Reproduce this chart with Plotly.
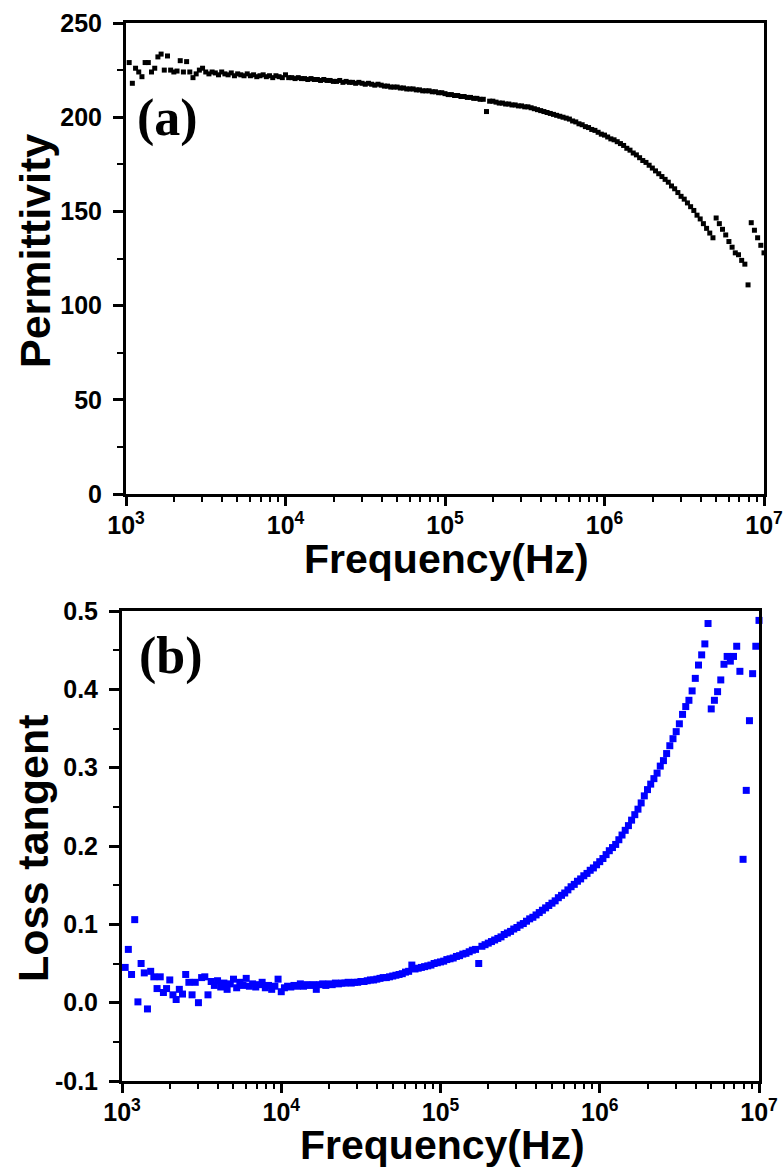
import plotly.graph_objects as go

# Frequency sweep: 50 points per decade, 1 kHz .. 10 MHz
FREQ_MANTISSA = [1.000, 1.047, 1.096, 1.148, 1.202, 1.259, 1.318, 1.380, 1.445, 1.514,
                 1.585, 1.660, 1.738, 1.820, 1.905, 1.995, 2.089, 2.188, 2.291, 2.399,
                 2.512, 2.630, 2.754, 2.884, 3.020, 3.162, 3.311, 3.467, 3.631, 3.802,
                 3.981, 4.169, 4.365, 4.571, 4.786, 5.012, 5.248, 5.495, 5.754, 6.026,
                 6.310, 6.607, 6.918, 7.244, 7.586, 7.943, 8.318, 8.710, 9.120, 9.550]
DECADES = [1e3, 1e4, 1e5, 1e6]
LAST_FREQ = 1e7
freq = [m * d for d in DECADES for m in FREQ_MANTISSA] + [LAST_FREQ]

permittivity = [
    231, 229, 218, 226, 224, 221.5, 229, 229, 224, 226,
    232, 233.5, 225, 232.5, 225, 224, 224.5, 230, 224, 229.5,
    224, 221, 223, 225, 226, 224, 223, 224, 223.5, 222.5,
    224, 223, 222.5, 223.5, 222, 223, 222.5, 222, 223, 222,
    222.5, 221.5, 222, 222.5, 221.5, 222, 221, 222, 221.5, 221,
    222.5, 221, 221, 220.5, 221, 220.5, 220.5, 220, 220.5, 220,
    220, 219.5, 220, 219.5, 219.5, 219, 219, 219.5, 218.5, 219,
    218.5, 218.5, 218, 218.5, 218, 217.5, 218, 217.5, 217, 217.5,
    217, 216.5, 216.5, 216, 216, 216, 215.5, 215.5, 215, 215,
    215, 214.5, 214.5, 214, 214, 214, 213.5, 213.5, 213, 213,
    212.5, 212, 212, 211.5, 211.5, 211, 211, 210.5, 210.5, 210,
    210, 209.5, 209.5, 203, 208.5, 208.5, 208, 207.5, 207.5, 207,
    207, 206.5, 206.5, 206, 206, 205.5, 205.5, 205, 204.5, 204,
    203.5, 203, 202.5, 202, 201.5, 201, 200.5, 200, 199.5, 199,
    198, 197.5, 196.5, 196, 195, 194.5, 193.5, 193, 192, 191,
    190.5, 189.5, 188.5, 188, 187, 186, 185, 183.5, 182.5, 181,
    180, 178.5, 177, 176, 174.5, 173, 171.5, 170, 168.5, 167,
    165.5, 163.5, 162, 160, 158, 156.5, 154.5, 152.5, 150.5, 148,
    146, 143.5, 141, 138.5, 136, 146.5, 143.5, 140.5, 137.5, 134,
    131, 128, 127, 124, 122, 111, 144, 140, 136, 132,
    128]

loss_tangent = [
    -0.054, 0.045, 0.068, 0.036, 0.106, 0.001, 0.050, 0.038, -0.008, 0.040,
    0.033, 0.018, 0.033, 0.013, 0.018, 0.029, 0.010, 0.004, 0.017, 0.011,
    0.036, 0.026, 0.010, 0.026, 0.000, 0.032, 0.033, 0.010, 0.027, 0.022,
    0.028, 0.020, 0.025, 0.017, 0.024, 0.030, 0.019, 0.026, 0.022, 0.031,
    0.021, 0.024, 0.020, 0.023, 0.026, 0.019, 0.022, 0.017, 0.021, 0.030,
    0.014, 0.019, 0.021, 0.020, 0.022, 0.021, 0.024, 0.021, 0.023, 0.022,
    0.023, 0.017, 0.023, 0.024, 0.022, 0.024, 0.023, 0.025, 0.024, 0.025,
    0.025, 0.026, 0.025, 0.026, 0.026, 0.027, 0.027, 0.028, 0.029, 0.029,
    0.030, 0.031, 0.032, 0.032, 0.033, 0.034, 0.035, 0.036, 0.037, 0.039,
    0.040, 0.048, 0.043, 0.044, 0.045, 0.046, 0.047, 0.048, 0.050, 0.051,
    0.052, 0.053, 0.055, 0.056, 0.057, 0.059, 0.060, 0.062, 0.063, 0.065,
    0.067, 0.068, 0.050, 0.072, 0.074, 0.076, 0.078, 0.080, 0.082, 0.084,
    0.087, 0.089, 0.091, 0.094, 0.096, 0.099, 0.101, 0.104, 0.107, 0.109,
    0.112, 0.115, 0.118, 0.121, 0.124, 0.127, 0.130, 0.134, 0.137, 0.140,
    0.144, 0.148, 0.151, 0.155, 0.158, 0.162, 0.165, 0.169, 0.172, 0.176,
    0.180, 0.184, 0.189, 0.194, 0.198, 0.202, 0.208, 0.214, 0.220, 0.226,
    0.233, 0.240, 0.247, 0.255, 0.264, 0.272, 0.279, 0.286, 0.293, 0.302,
    0.309, 0.318, 0.328, 0.337, 0.346, 0.356, 0.368, 0.378, 0.386, 0.398,
    0.414, 0.431, 0.444, 0.458, 0.484, 0.375, 0.386, 0.397, 0.412, 0.432,
    0.442, 0.436, 0.442, 0.455, 0.423, 0.183, 0.271, 0.360, 0.420, 0.455,
    0.488]

X_TICKS = [1e3, 1e4, 1e5, 1e6, 1e7]
X_LABELS = ["10<sup>3</sup>", "10<sup>4</sup>", "10<sup>5</sup>", "10<sup>6</sup>", "10<sup>7</sup>"]
MINOR_DIGITS = [2, 3, 4, 5, 6, 7, 8, 9]
X_MINOR = [dg * d for d in DECADES for dg in MINOR_DIGITS]
Y1_TICKS = [0, 50, 100, 150, 200, 250]
Y1_LABELS = ["0", "50", "100", "150", "200", "250"]
Y2_TICKS = [-0.1, 0.0, 0.1, 0.2, 0.3, 0.4, 0.5]
Y2_LABELS = ["-0.1", "0.0", "0.1", "0.2", "0.3", "0.4", "0.5"]
X_TITLE = "Frequency(Hz)"
Y1_TITLE = "Permittivity"
Y2_TITLE = "Loss tangent"
PANEL_LABELS = ["(a)", "(b)"]

W, H = 783, 1175
SANS = "Liberation Sans, Arial, sans-serif"
SERIF = "Liberation Serif, Times New Roman, serif"
tickfont = dict(family=SANS, size=25, color="black", weight="bold")
titlefont = dict(family=SANS, size=41, color="black", weight="bold")
ytitlefont = dict(family=SANS, size=43, color="black", weight="bold")
labelfont = dict(family=SERIF, size=52, color="black", weight="bold")

fig = go.Figure()
fig.add_trace(go.Scatter(x=freq, y=permittivity, mode="markers", xaxis="x", yaxis="y",
                         marker=dict(symbol="square", size=5, color="black"),
                         cliponaxis=False, showlegend=False))
fig.add_trace(go.Scatter(x=freq, y=loss_tangent, mode="markers", xaxis="x2", yaxis="y2",
                         marker=dict(symbol="square", size=7, color="#0000FF"),
                         cliponaxis=False, showlegend=False))

common_x = dict(type="log", range=[3, 7], tickmode="array", tickvals=X_TICKS, ticktext=X_LABELS,
                showgrid=False, zeroline=False, showline=True, linewidth=3, linecolor="black",
                mirror=True, ticks="outside", ticklen=9, tickwidth=2.5, tickcolor="black",
                tickfont=tickfont, ticklabelstandoff=-2, automargin=False,
                minor=dict(ticks="outside", ticklen=5, tickwidth=2, tickcolor="black",
                           tickmode="array", tickvals=X_MINOR, showgrid=False))
common_y = dict(showgrid=False, zeroline=False, showline=True, linewidth=3, linecolor="black",
                mirror=True, ticks="outside", ticklen=10, tickwidth=2.5, tickcolor="black",
                tickfont=tickfont, ticklabelstandoff=6, automargin=False)


def px_x(v):
    return v / W


def px_y(v):
    return 1 - v / H


fig.update_layout(
    width=W, height=H, margin=dict(l=0, r=0, t=0, b=0),
    paper_bgcolor="white", plot_bgcolor="white",
    xaxis=dict(common_x, domain=[px_x(126), px_x(764)], anchor="y"),
    yaxis=dict(common_y, domain=[px_y(494), px_y(23)], anchor="x", range=[0, 250],
               tickmode="array", tickvals=Y1_TICKS, ticktext=Y1_LABELS,
               minor=dict(ticks="outside", ticklen=6, tickwidth=2, tickcolor="black", dtick=25)),
    xaxis2=dict(common_x, domain=[px_x(122), px_x(759)], anchor="y2"),
    yaxis2=dict(common_y, domain=[px_y(1081), px_y(611)], anchor="x2", range=[-0.1, 0.5],
                tickmode="array", tickvals=Y2_TICKS, ticktext=Y2_LABELS,
                minor=dict(ticks="outside", ticklen=6, tickwidth=2, tickcolor="black", dtick=0.05)),
    annotations=[
        dict(text=PANEL_LABELS[0], x=px_x(167), y=px_y(118), xref="paper", yref="paper",
             showarrow=False, xanchor="center", yanchor="middle", font=labelfont),
        dict(text=PANEL_LABELS[1], x=px_x(171), y=px_y(656), xref="paper", yref="paper",
             showarrow=False, xanchor="center", yanchor="middle", font=labelfont),
        dict(text=X_TITLE, x=px_x(446), y=px_y(559), xref="paper", yref="paper",
             showarrow=False, xanchor="center", yanchor="middle", font=titlefont),
        dict(text=X_TITLE, x=px_x(442), y=px_y(1145), xref="paper", yref="paper",
             showarrow=False, xanchor="center", yanchor="middle", font=titlefont),
        dict(text=Y1_TITLE, x=px_x(35), y=px_y(251), xref="paper", yref="paper", textangle=-90,
             showarrow=False, xanchor="center", yanchor="middle", font=ytitlefont),
        dict(text=Y2_TITLE, x=px_x(33), y=px_y(848), xref="paper", yref="paper", textangle=-90,
             showarrow=False, xanchor="center", yanchor="middle", font=ytitlefont),
    ],
)

fig.write_html("out.html", config={"displayModeBar": False},
               post_script="document.body.style.margin='0px';")
